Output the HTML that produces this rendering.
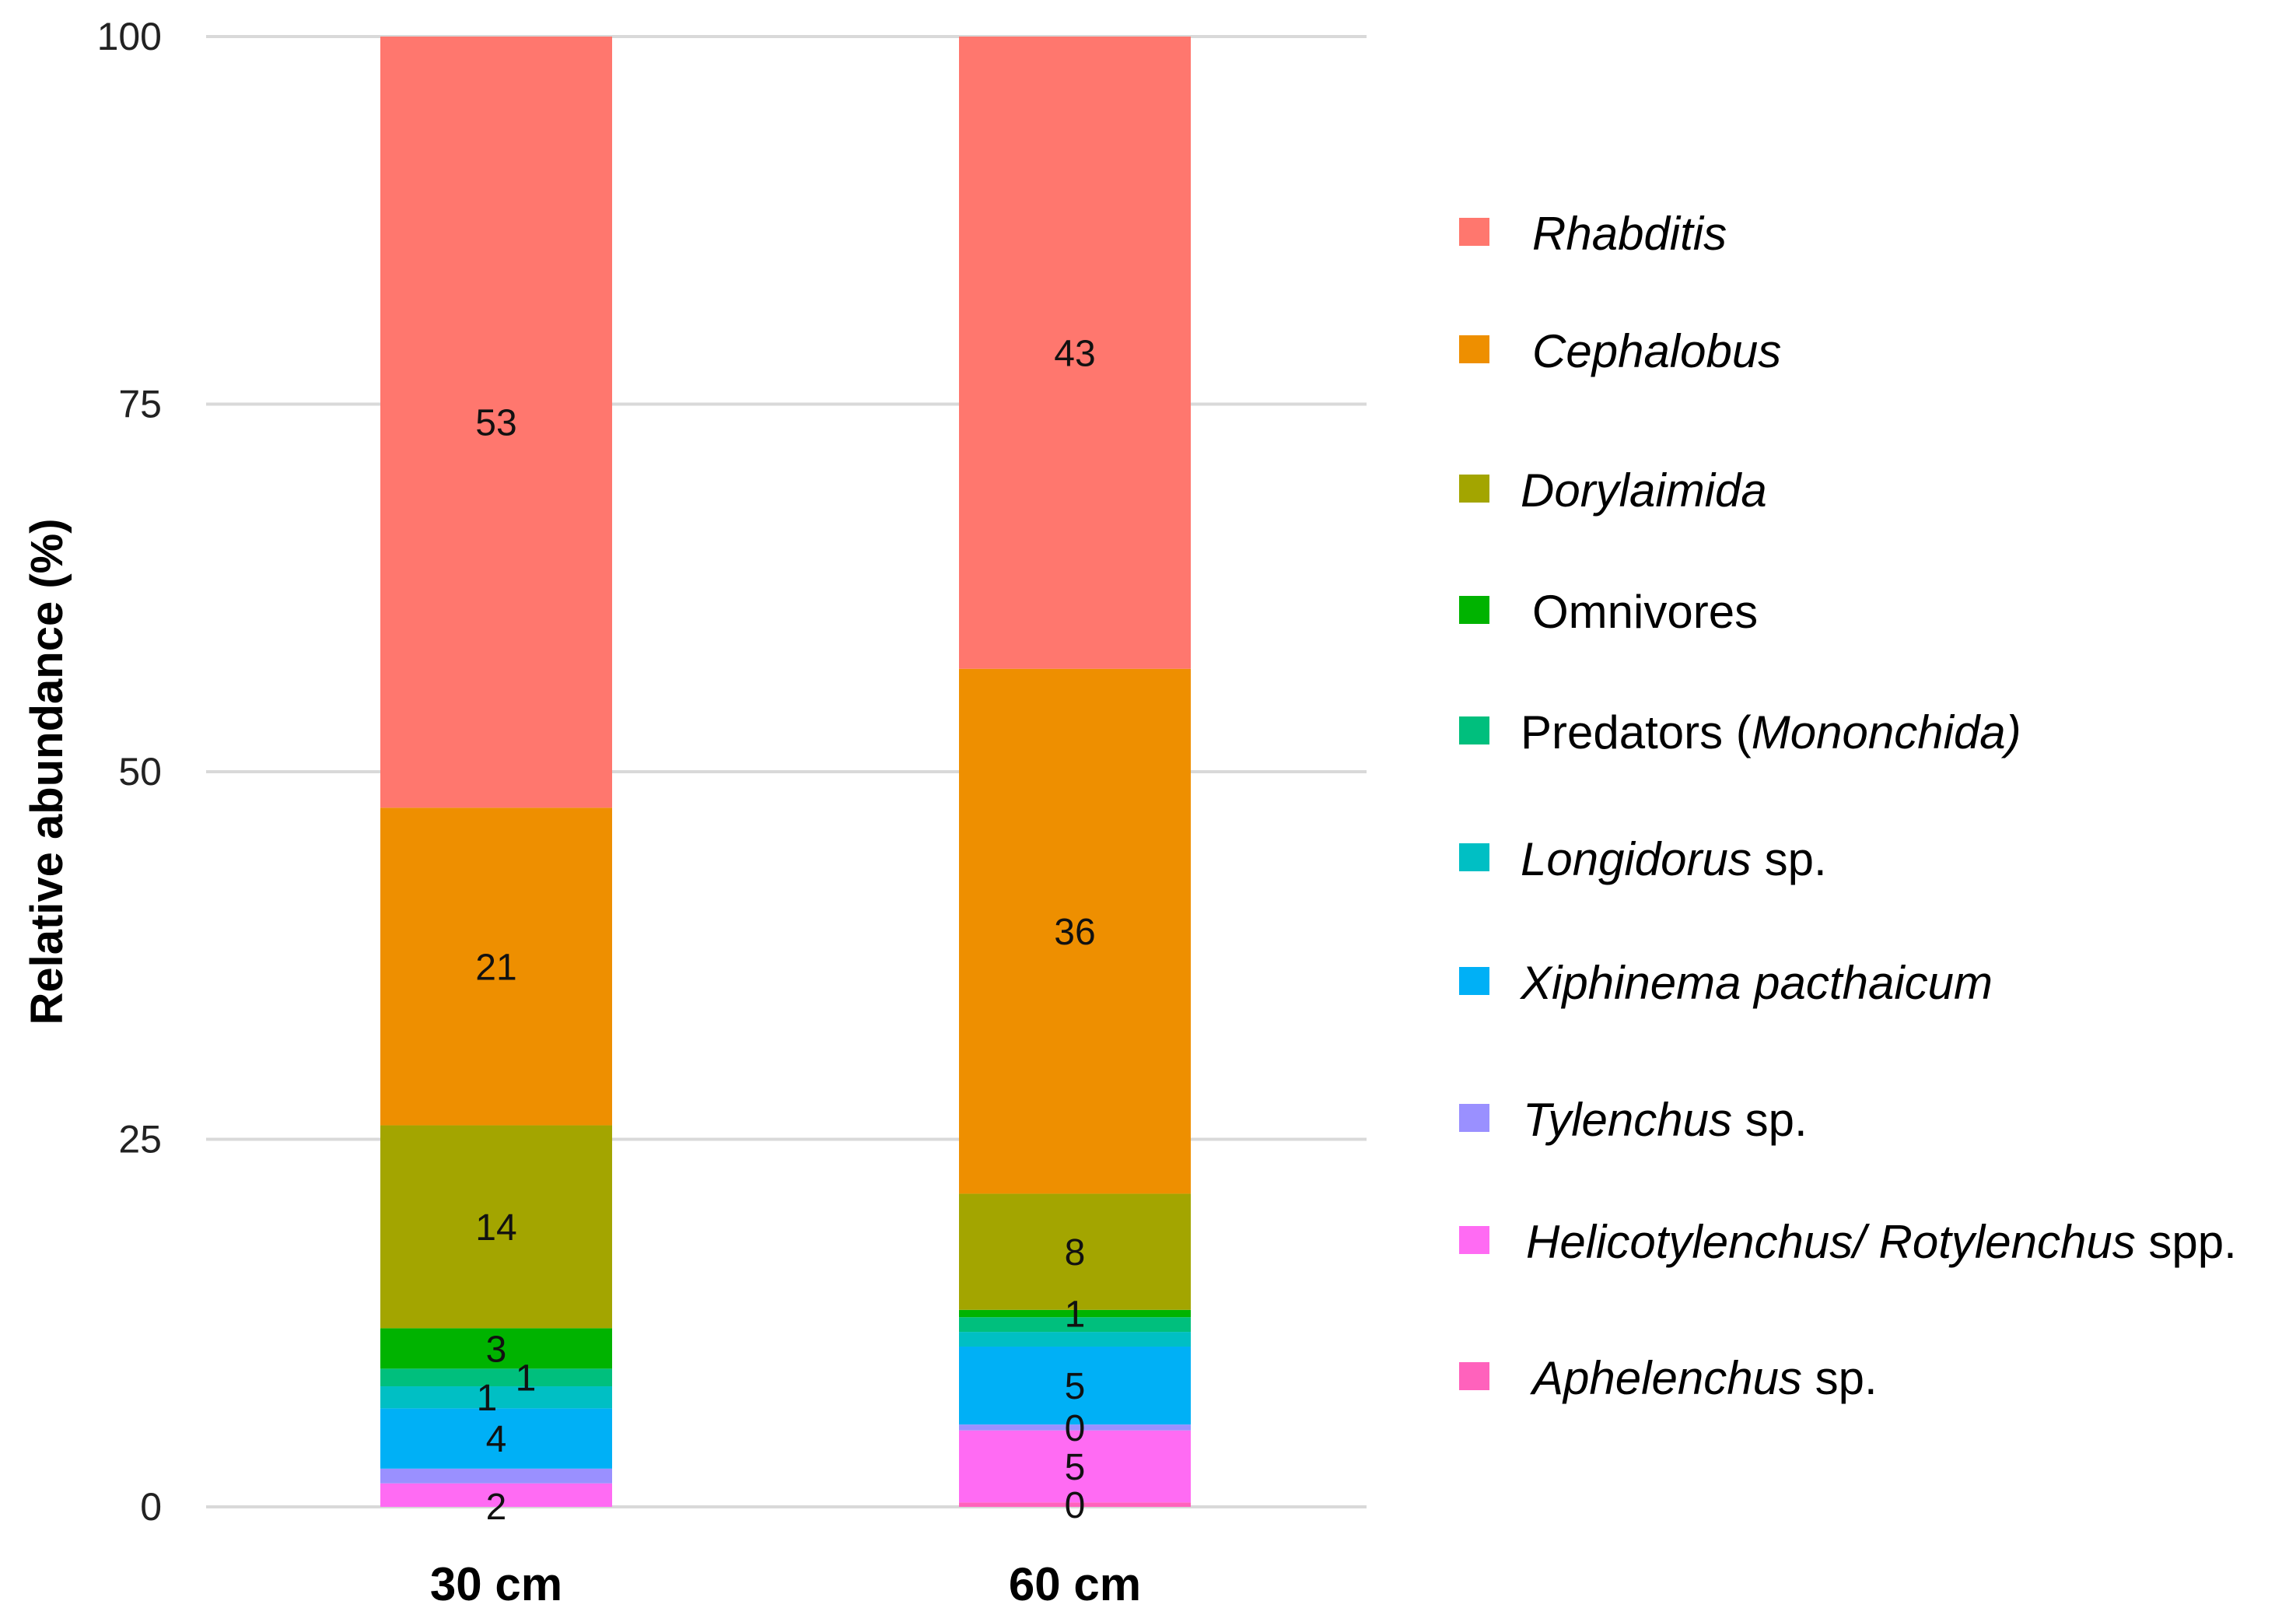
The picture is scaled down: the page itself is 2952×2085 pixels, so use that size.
<!DOCTYPE html>
<html><head><meta charset="utf-8"><style>
html,body{margin:0;padding:0;background:#fff;}
svg{display:block;}
</style></head><body>
<svg id="chart" width="2952" height="2085" viewBox="0 0 2952 2085" xmlns="http://www.w3.org/2000/svg">
<g id="grid"></g>
<g id="yticks"></g>
<g id="bars"></g>
<g id="labels"></g>
<g id="xlabels"></g>
<text transform="translate(80,992) rotate(-90)" text-anchor="middle" font-family="Liberation Sans, sans-serif" font-weight="bold" font-size="58" fill="#000">Relative abundance  (%)</text>
<g id="legend"></g>
</svg>
<script>
const categories = ["30 cm", "60 cm"];
const seriesNames = ["Aphelenchus sp.", "Helicotylenchus/ Rotylenchus spp.", "Tylenchus sp.", "Xiphinema pacthaicum", "Longidorus sp.", "Predators (Mononchida)", "Omnivores", "Dorylaimida", "Cephalobus", "Rhabditis"];
const seriesColors = ["#FF62BC", "#FF6BF3", "#9A90FF", "#00B0F6", "#00BFC4", "#00BF7D", "#00B300", "#A3A500", "#EE8F00", "#FF776E"];
const values30 = [0, 1.6, 1.0, 4.1, 1.5, 1.2, 2.75, 13.8, 21.6, 52.45];
const values60 = [0.3, 4.9, 0.4, 5.3, 1.0, 1.0, 0.5, 7.9, 35.7, 43.0];
const labels30 = ["", "2", "", "4", "1", "1", "3", "14", "21", "53"];
const labels60 = ["0", "5", "0", "5", "", "", "1", "8", "36", "43"];
const yTicks = [0, 25, 50, 75, 100];

const NS = "http://www.w3.org/2000/svg";
const plotL = 265, plotR = 1757, y0 = 1937, y100 = 47;
const yScale = v => y0 - (v / 100) * (y0 - y100);
const barCenters = [638, 1382];
const barW = 298;
const xScale = i => barCenters[i];
function mk(tag, attrs, parent) { const e = document.createElementNS(NS, tag); for (const k in attrs) e.setAttribute(k, attrs[k]); parent.appendChild(e); return e; }

const grid = document.getElementById('grid'), yt = document.getElementById('yticks');
yTicks.forEach(t => {
  const l = mk('line', {x1: plotL, x2: plotR, y1: yScale(t), y2: yScale(t), stroke: '#d9d9d9', 'stroke-width': 4}, grid);
  
  
  const tx = mk('text', {x: 208, y: yScale(t) + 17, 'text-anchor': 'end', 'font-family': 'Liberation Sans Narrow, Liberation Sans, sans-serif', 'font-size': 50, fill: '#222'}, yt);
  tx.textContent = t;
  
  
});

const bars = document.getElementById('bars'), lab = document.getElementById('labels'), xl = document.getElementById('xlabels');
[values30, values60].forEach((vals, ci) => {
  const labs = ci === 0 ? labels30 : labels60;
  let cum = 0;
  vals.forEach((v, si) => {
    const yTop = yScale(cum + v), yBot = yScale(cum);
    const r = mk('rect', {x: xScale(ci) - barW / 2, y: yTop, width: barW, height: Math.max(0, yBot - yTop), fill: seriesColors[si]}, bars);
    
    
    if (labs[si] !== "") {
      let dx = 0, dy = 0;
      if (ci === 0 && si === 5) dx = 38;
      if (ci === 0 && si === 4) dx = -12;
      if (ci === 0 && si === 1) dy = 14;
      const t = mk('text', {x: xScale(ci) + dx, y: (yTop + yBot) / 2 + 17 + dy, 'text-anchor': 'middle', 'font-family': 'Liberation Sans Narrow, Liberation Sans, sans-serif', 'font-size': 48, fill: '#111'}, lab);
      t.textContent = labs[si];
      
      
    }
    cum += v;
  });
  const x = mk('text', {x: xScale(ci), y: 2057, 'text-anchor': 'middle', 'font-family': 'Liberation Sans, sans-serif', 'font-weight': 'bold', 'font-size': 60, fill: '#000'}, xl);
  x.textContent = categories[ci];
  
  
});

const legend = document.getElementById('legend');
const legendItems = [
  {si: 9, parts: [["Rhabditis", true]], y: 301, tx: 1970},
  {si: 8, parts: [["Cephalobus", true]], y: 452, tx: 1970},
  {si: 7, parts: [["Dorylaimida", true]], y: 631, tx: 1955},
  {si: 6, parts: [["Omnivores", false]], y: 787, tx: 1970},
  {si: 5, parts: [["Predators (", false], ["Mononchida)", true]], y: 942, tx: 1955},
  {si: 4, parts: [["Longidorus", true], [" sp.", false]], y: 1105, tx: 1955},
  {si: 3, parts: [["Xiphinema pacthaicum", true]], y: 1264, tx: 1955},
  {si: 2, parts: [["Tylenchus", true], [" sp.", false]], y: 1440, tx: 1958},
  {si: 1, parts: [["Helicotylenchus/ Rotylenchus", true], [" spp.", false]], y: 1597, tx: 1962},
  {si: 0, parts: [["Aphelenchus", true], [" sp.", false]], y: 1772, tx: 1970}
];
legendItems.forEach(it => {
  const m = mk('rect', {x: 1876, y: it.y - 21, width: 39, height: 36, fill: seriesColors[it.si]}, legend);
  
  
  const t = mk('text', {x: it.tx, y: it.y + 20, 'font-family': 'Liberation Sans, sans-serif', 'font-size': 60, fill: '#000'}, legend);
  
  
  it.parts.forEach(p => {
    const s = mk('tspan', p[1] ? {'font-style': 'italic'} : {}, t);
    s.textContent = p[0];
  });
});
</script>
</body></html>
